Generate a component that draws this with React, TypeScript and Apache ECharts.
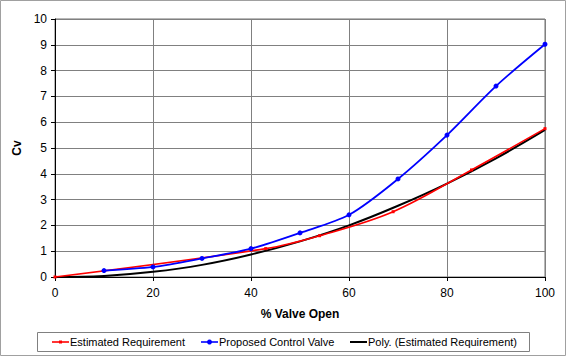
import React, { useEffect, useRef } from "react";
import * as echarts from "echarts";

const estimatedX = [0, 43, 54, 69, 85, 100];
const estimatedY = [0, 1.1, 1.6, 2.53, 4.15, 5.75];

const proposedX = [10, 20, 30, 40, 50, 60, 70, 80, 90, 100];
const proposedY = [0.25, 0.39, 0.72, 1.1, 1.71, 2.41, 3.8, 5.5, 7.4, 9.02];

const polyX = [0, 10, 20, 30, 40, 50, 60, 70, 80, 90, 100];
const polyY = [0, 0.04, 0.2, 0.47, 0.87, 1.38, 2.0, 2.76, 3.62, 4.6, 5.7];

const seriesNames = ["Estimated Requirement", "Proposed Control Valve", "Poly. (Estimated Requirement)"];
const seriesColors = ["#ff0000", "#0000ff", "#000000"];

const FONT = "Liberation Sans, Arial, sans-serif";

export default function App() {
  const ref = useRef<HTMLDivElement>(null);
  useEffect(() => {
    if (!ref.current) return;
    const chart = echarts.init(ref.current, null, { renderer: "svg" });
    const zip = (xs: number[], ys: number[]) => xs.map((x, i) => [x, ys[i]]);

    const legendY = 342;
    const legendLineX = [52, 201, 350];
    const legendItems: any[] = [];
    seriesNames.forEach((name, i) => {
      const x0 = legendLineX[i];
      legendItems.push({
        type: "line",
        shape: { x1: x0, y1: legendY, x2: x0 + 17, y2: legendY },
        style: { stroke: seriesColors[i], lineWidth: i === 2 ? 2 : 1.6 },
        silent: true,
      });
      if (i === 0) {
        legendItems.push({
          type: "rect",
          shape: { x: x0 + 7, y: legendY - 1.5, width: 3, height: 3 },
          style: { fill: seriesColors[i] },
          silent: true,
        });
      } else if (i === 1) {
        legendItems.push({
          type: "circle",
          shape: { cx: x0 + 8.5, cy: legendY, r: 2.5 },
          style: { fill: seriesColors[i] },
          silent: true,
        });
      }
      legendItems.push({
        type: "text",
        x: x0 + 18,
        y: legendY,
        style: {
          text: name,
          fontFamily: FONT,
          fontSize: 11,
          fill: "#000",
          verticalAlign: "middle",
          align: "left",
        },
        silent: true,
      });
    });

    chart.setOption({
      animation: false,
      backgroundColor: "#ffffff",
      textStyle: { fontFamily: FONT },
      grid: {
        left: 55,
        right: 21,
        top: 19,
        bottom: 79,
        show: true,
        borderColor: "#707070",
        borderWidth: 1,
      },
      graphic: [
        {
          type: "rect",
          shape: { x: 0.5, y: 0.5, width: 565, height: 355 },
          style: { fill: "none", stroke: "#a0a0a0", lineWidth: 1 },
          silent: true,
        },
        {
          type: "rect",
          shape: { x: 37.5, y: 332.5, width: 492, height: 19 },
          style: { fill: "none", stroke: "#808080", lineWidth: 1 },
          silent: true,
        },
        ...legendItems,
      ],
      xAxis: {
        type: "value",
        min: 0,
        max: 100,
        interval: 20,
        name: "% Valve Open",
        nameLocation: "middle",
        nameGap: 31,
        nameTextStyle: { fontFamily: FONT, fontSize: 12, fontWeight: "bold", color: "#000" },
        axisLine: { show: true, lineStyle: { color: "#000", width: 1 } },
        axisTick: { show: true, length: 4, lineStyle: { color: "#000" } },
        axisLabel: { fontFamily: FONT, fontSize: 12, color: "#000", margin: 10 },
        splitLine: { show: true, lineStyle: { color: "#808080", width: 1 } },
      },
      yAxis: {
        type: "value",
        min: 0,
        max: 10,
        interval: 1,
        name: "Cv",
        nameLocation: "middle",
        nameGap: 30,
        nameRotate: 90,
        nameTextStyle: { fontFamily: FONT, fontSize: 12, fontWeight: "bold", color: "#000" },
        axisLine: { show: true, lineStyle: { color: "#000", width: 1 } },
        axisTick: { show: true, length: 4, lineStyle: { color: "#000" } },
        axisLabel: { fontFamily: FONT, fontSize: 12, color: "#000", margin: 8 },
        splitLine: { show: true, lineStyle: { color: "#808080", width: 1 } },
      },
      series: [
        {
          name: seriesNames[0],
          type: "line",
          data: zip(estimatedX, estimatedY),
          smooth: 0.35,
          symbol: "rect",
          symbolSize: 3,
          itemStyle: { color: seriesColors[0] },
          lineStyle: { color: seriesColors[0], width: 1.6 },
          z: 3,
        },
        {
          name: seriesNames[1],
          type: "line",
          data: zip(proposedX, proposedY),
          smooth: 0.3,
          symbol: "circle",
          symbolSize: 5,
          itemStyle: { color: seriesColors[1] },
          lineStyle: { color: seriesColors[1], width: 1.8 },
          z: 4,
        },
        {
          name: seriesNames[2],
          type: "line",
          data: zip(polyX, polyY),
          smooth: 0.4,
          symbol: "none",
          itemStyle: { color: seriesColors[2] },
          lineStyle: { color: seriesColors[2], width: 2 },
          z: 2,
        },
      ],
    });
    return () => chart.dispose();
  }, []);
  return (
    <div
      ref={ref}
      style={{ position: "fixed", left: 0, top: 0, width: 566, height: 356 }}
    />
  );
}
